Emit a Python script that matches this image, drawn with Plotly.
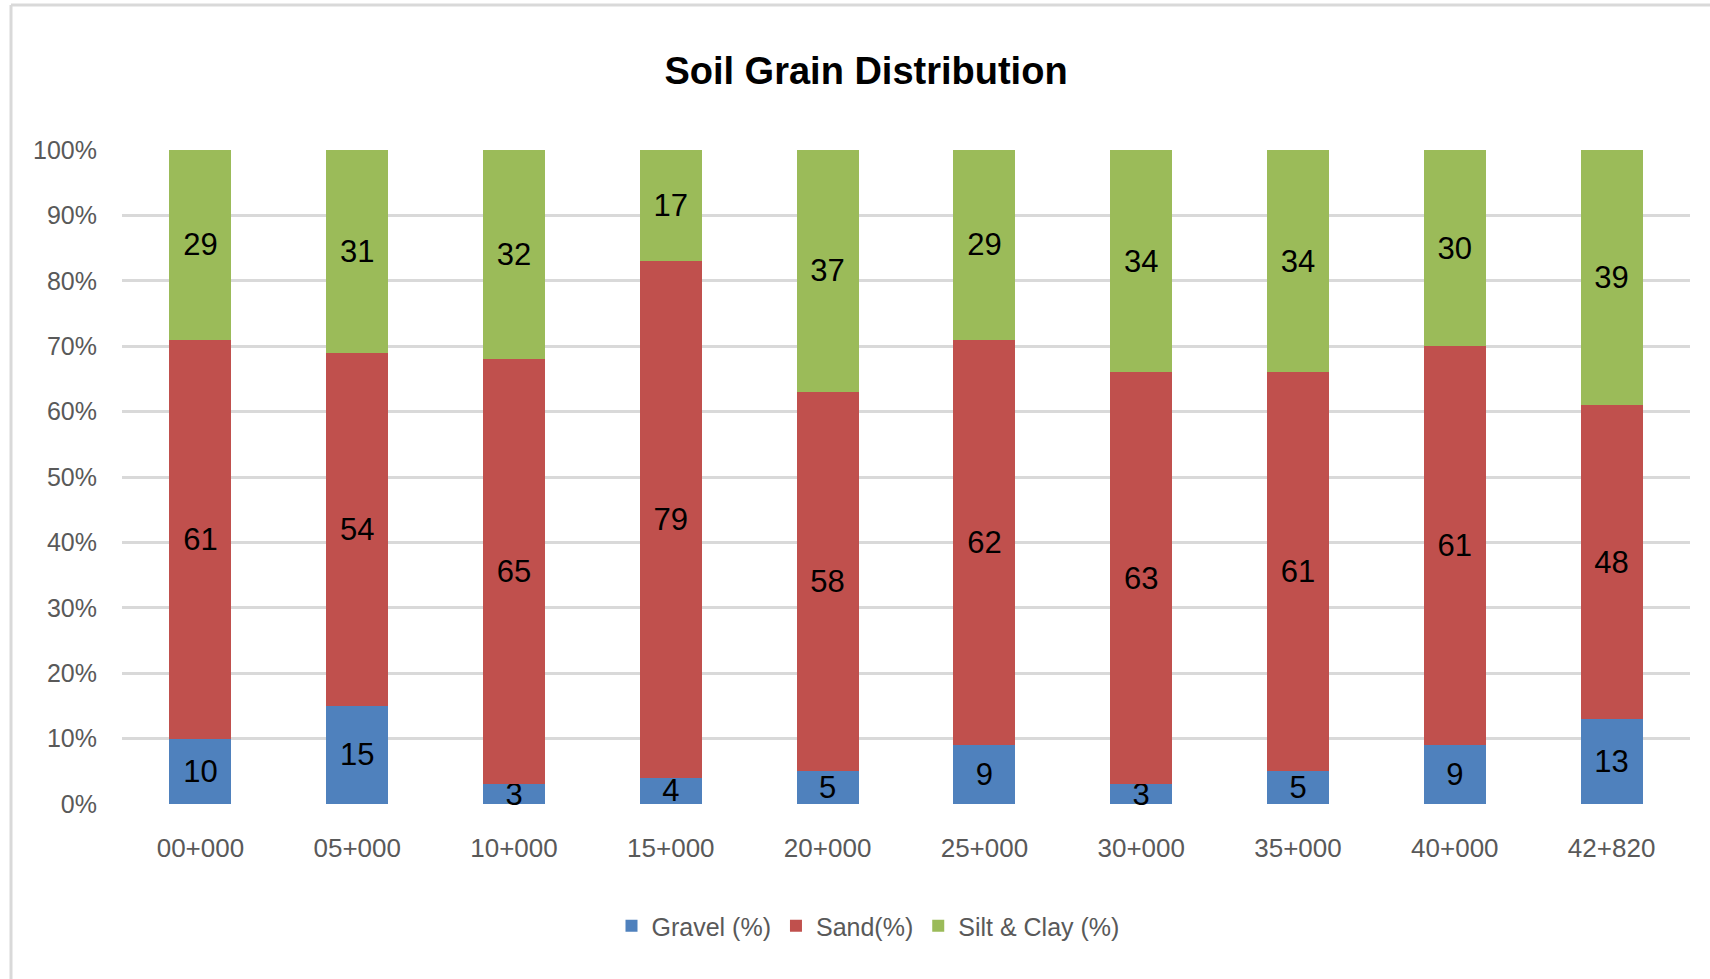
import plotly.graph_objects as go

categories = ["00+000", "05+000", "10+000", "15+000", "20+000",
              "25+000", "30+000", "35+000", "40+000", "42+820"]
gravel = [10, 15, 3, 4, 5, 9, 3, 5, 9, 13]
sand = [61, 54, 65, 79, 58, 62, 63, 61, 61, 48]
silt_clay = [29, 31, 32, 17, 37, 29, 34, 34, 30, 39]
y_ticks = [0, 10, 20, 30, 40, 50, 60, 70, 80, 90, 100]

FONT = "Liberation Sans, Arial, sans-serif"
W, H = 1710, 979
L, R, T, B = 122, 20, 150, 175
pw, ph = W - L - R, H - T - B

series = [
    ("Gravel (%)", gravel, "#4F81BD"),
    ("Sand(%)", sand, "#C0504D"),
    ("Silt & Clay (%)", silt_clay, "#9BBB59"),
]

fig = go.Figure()
for name, vals, color in series:
    fig.add_trace(go.Bar(
        x=categories, y=vals, name=name,
        marker=dict(color=color, line=dict(width=0)),
        text=[str(v) for v in vals],
        textposition="inside",
        insidetextanchor="middle",
        constraintext="none",
        textangle=0,
        insidetextfont=dict(family=FONT, size=31, color="#000000"),
        cliponaxis=False,
    ))

def px_x(x):
    return (x - L) / pw

def px_y(y):
    return (H - B - y) / ph

fig.update_layout(
    width=W, height=H,
    barmode="stack",
    bargap=0.605,
    plot_bgcolor="white",
    paper_bgcolor="white",
    margin=dict(l=L, r=R, t=T, b=B, pad=0),
    font=dict(family=FONT, color="#595959"),
    title=dict(
        text="<b>Soil Grain Distribution</b>",
        font=dict(family=FONT, size=38, color="#000000"),
        x=866 / W, xanchor="center",
        y=1 - 71 / H, yanchor="middle",
        xref="container", yref="container",
    ),
    xaxis=dict(
        showgrid=False, showline=False, zeroline=False,
        tickfont=dict(family=FONT, size=26, color="#595959"),
        ticklabelstandoff=26,
    ),
    yaxis=dict(
        range=[0, 100],
        tickvals=y_ticks,
        ticktext=[f"{v}%" for v in y_ticks],
        showgrid=True, gridcolor="#D9D9D9", gridwidth=3,
        zeroline=False, showline=False,
        tickfont=dict(family=FONT, size=25, color="#595959"),
        ticklabelstandoff=24,
    ),
    legend=dict(
        orientation="h",
        x=px_x(868), xanchor="center",
        y=px_y(926), yanchor="middle",
        font=dict(family=FONT, size=25, color="#595959"),
        itemwidth=30,
        traceorder="normal",
        bgcolor="rgba(0,0,0,0)",
    ),
    showlegend=True,
    shapes=[
        dict(type="line", xref="paper", yref="paper",
             x0=px_x(11), x1=px_x(W + 10), y0=px_y(5), y1=px_y(5),
             line=dict(color="#D9D9D9", width=3)),
        dict(type="line", xref="paper", yref="paper",
             x0=px_x(11), x1=px_x(11), y0=px_y(5), y1=px_y(H + 10),
             line=dict(color="#D9D9D9", width=3)),
    ],
)

fig.write_html("out.html", config={"displayModeBar": False},
               post_script="document.body.style.margin='0px';")
